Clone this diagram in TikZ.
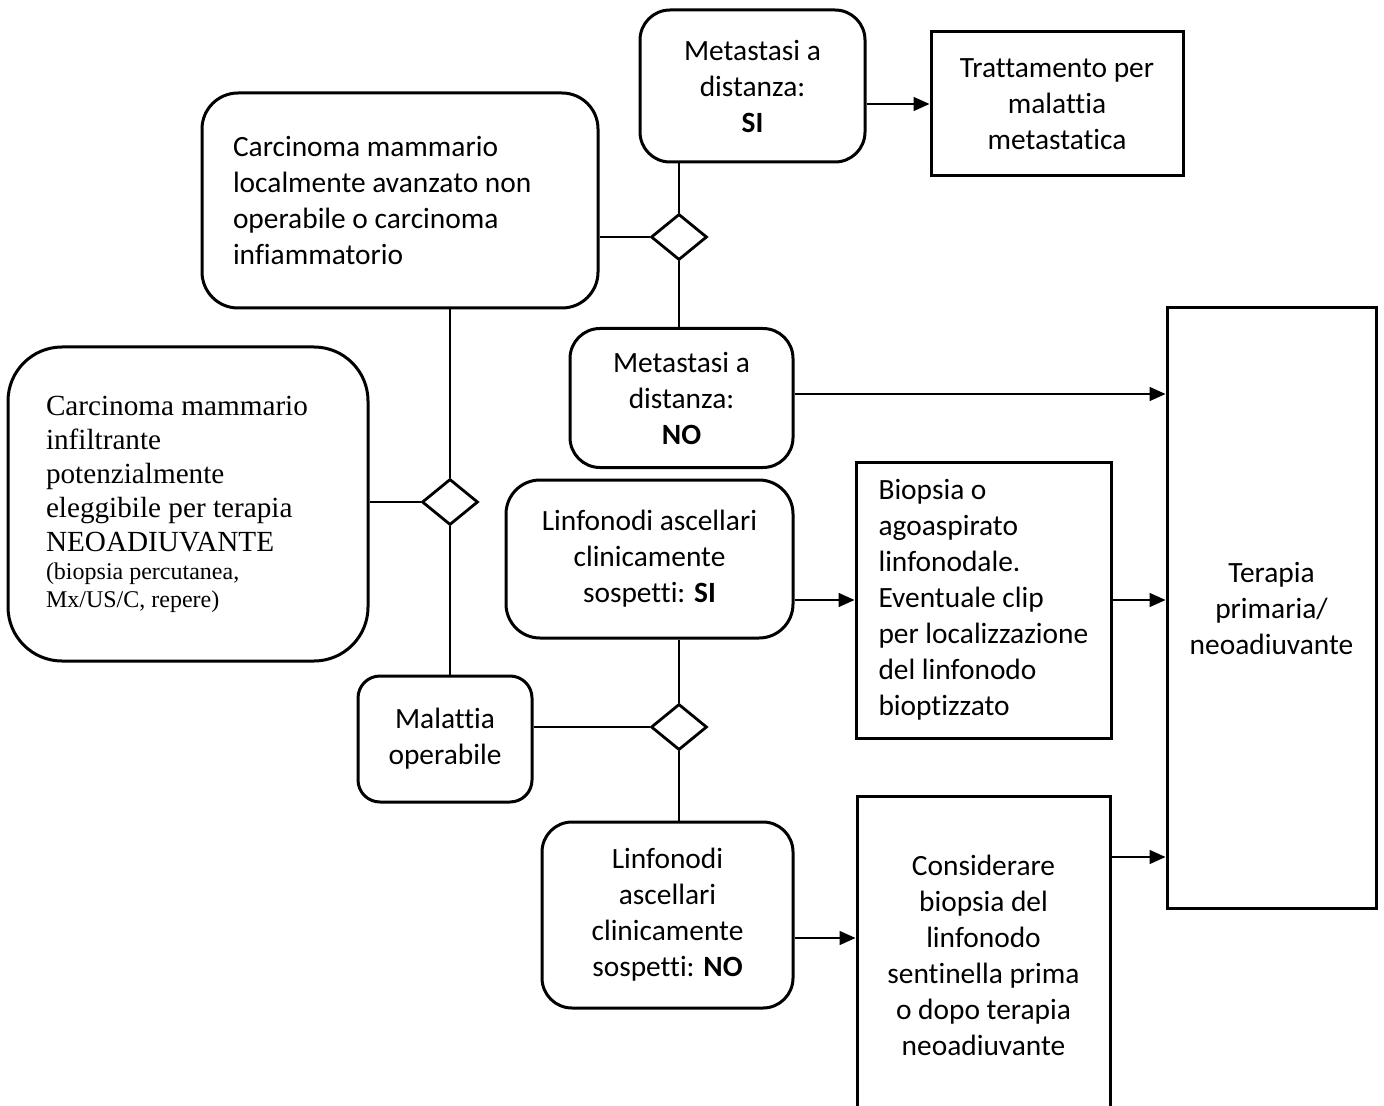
\documentclass[tikz,border=0pt]{standalone}
\usepackage{fontspec}
\setmainfont{Carlito}[Ligatures=NoCommon]
\newfontfamily\timesfont{Liberation Serif}
\usetikzlibrary{shapes.geometric,arrows.meta}

\begin{document}
\begin{tikzpicture}[x=0.5pt,y=-0.5pt,
	box/.style={draw, line width=1.5pt, align=center, inner sep=0pt, font=\fontsize{14.7}{18}\selectfont},
	rbox/.style={box, rounded corners=#1},
	dec/.style={draw, diamond, line width=1.4pt, minimum width=28pt, minimum height=23pt, inner sep=0pt},
	link/.style={line width=0.75pt},
	arr/.style={line width=0.75pt, -{Triangle[length=8pt,width=7pt]}}]
	\useasboundingbox (0,0) rectangle (1384,1106);
	%\draw[red] (0,0) rectangle (1384,1106);
	\node[rbox=15pt, minimum width=112.5pt, minimum height=76pt] (siMeta) at (752.5,86) {Metastasi a\\distanza:\\\textbf{SI}};
	\node[box, minimum width=126pt, minimum height=72pt] (tratt) at (1057,104) {Trattamento per\\malattia\\metastatica};
	\node[rbox=18pt, minimum height=107.5pt, text width=167pt, inner xsep=15.5pt, align=flush left] (locAv) at (400,200.5)
	{Carcinoma mammario\\localmente avanzato non\\operabile o carcinoma\\infiammatorio};
	\node[dec] (d1) at (679,237) {};
	\node[rbox=15pt, minimum width=111.5pt, minimum height=69.5pt] (noMeta) at (681.5,398) {Metastasi a\\distanza:\\\textbf{NO}};
	\node[box, minimum width=104.5pt, minimum height=300pt] (terapia) at (1271.5,608) {Terapia\\primaria/\\neoadiuvante};
	\node[rbox=27pt, minimum height=157pt, text width=142pt, inner xsep=19pt, align=flush left, font=\timesfont\fontsize{14.6}{17}\selectfont] (infiltr) at (188,504)
	{Carcinoma mammario\\infiltrante\\potenzialmente\\eleggibile per terapia\\NEOADIUVANTE\par
	{\fontsize{12}{14}\selectfont (biopsia percutanea,\\Mx/US/C, repere)\par}};
	\node[dec] (d2) at (450,502) {};
	\node[rbox=11pt, minimum width=87pt, minimum height=63pt] (opera) at (445,739) {Malattia\\operabile};
	\node[rbox=17pt, minimum width=143.5pt, minimum height=79pt] (linfSi) at (649.5,559) {Linfonodi ascellari\\clinicamente\\sospetti: \textbf{SI}};
	\node[box, minimum height=138pt, text width=105pt, inner xsep=11.25pt, align=flush left] (biopsia) at (983.5,600)
	{\hyphenpenalty=10000 Biopsia o\\agoaspirato\\linfonodale.\\Eventuale clip\\per localizzazione\\del linfonodo\\bioptizzato};
	\node[dec] (d3) at (679,727) {};
	\node[rbox=15pt, minimum width=125.5pt, minimum height=93pt] (linfNo) at (667.5,915) {Linfonodi\\ascellari\\clinicamente\\sospetti: \textbf{NO}};
	\node[box, minimum width=126.5pt, minimum height=159pt] (consid) at (983.5,955)
	{Considerare\\biopsia del\\linfonodo\\sentinella prima\\o dopo terapia\\neoadiuvante};

	\draw[arr] (siMeta.east |- tratt.west) -- (tratt.west);
	\draw[link] (locAv.east |- d1) -- (d1.west);
	\draw[link] (d1.north |- siMeta.south) -- (d1.north);
	\draw[link] (d1.south) -- (d1.south |- noMeta.north);
	\draw[arr] ([yshift=2pt]noMeta.east) -- ([yshift=2pt]noMeta.east -| terapia.west);
	\draw[link] (infiltr.east |- d2) -- (d2.west);
	\draw[link] (d2.north |- locAv.south) -- (d2.north);
	\draw[link] (d2.south) -- (d2.south |- opera.north);
	\draw[link] (opera.east |- d3) -- (d3.west);
	\draw[link] (d3.north |- linfSi.south) -- (d3.north);
	\draw[link] (d3.south) -- (d3.south |- linfNo.north);
	\draw[arr] (linfSi.east |- biopsia.west) -- (biopsia.west);
	\draw[arr] (biopsia.east) -- (biopsia.east -| terapia.west);
	\draw[arr] ([yshift=-11.5pt]linfNo.east) -- ([yshift=-11.5pt]linfNo.east -| consid.west);
	\draw[arr] ([yshift=49pt]consid.east) -- ([yshift=49pt]consid.east -| terapia.west);
\end{tikzpicture}
\end{document}
